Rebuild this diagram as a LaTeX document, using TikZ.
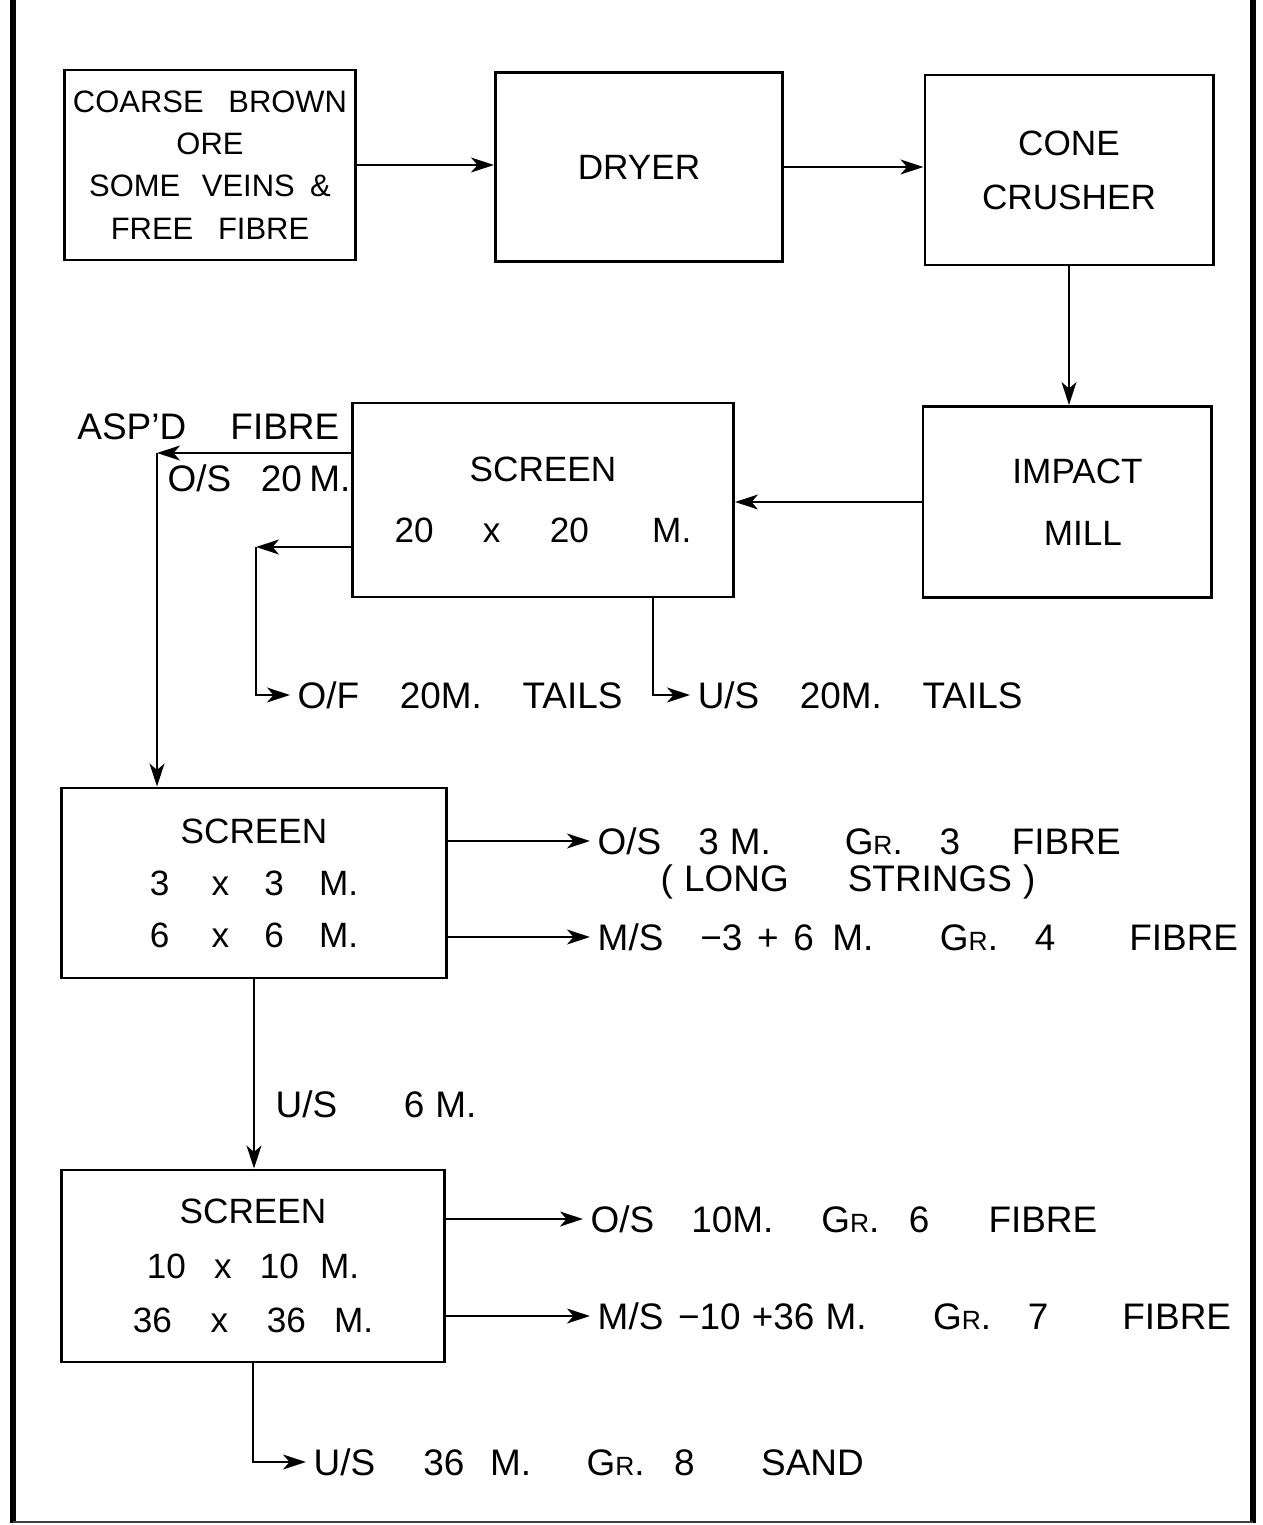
\documentclass[tikz,border=0pt]{standalone}
\usepackage{fontspec}
\setmainfont{Liberation Sans}
\usetikzlibrary{positioning,calc,arrows.meta}
\newcommand{\gap}[1]{\hspace{#1em}}
\newcommand{\grade}{G{\fontsize{7.5}{8}\selectfont R}.}

\begin{document}
\begin{tikzpicture}[x=0.01cm, y=-0.01cm]
\tikzstyle{process} = [rectangle, draw, thick, align=center, inner sep=2pt, font=\fontsize{10}{15.4}\selectfont]
\tikzstyle{sidefont} = [inner sep=2pt, font=\fontsize{10.5}{12}\selectfont]
\tikzstyle{outtext} = [sidefont, anchor=west]
\tikzstyle{arrow} = [thick,->,>={Stealth[length=6.5pt,width=4.2pt,inset=1.8pt]}]
\tikzstyle{frame} = [line width=1.5pt]

\useasboundingbox (0,0) rectangle (1262,1525);
\draw [frame] (13,0) -- (13,1523);
\draw [frame] (1253,0) -- (1253,1523);
\draw [thick, black!75] (13,1522) -- (1253,1522);

% top row
\node (Ore) [process, inner sep=0.5pt, minimum width=2.91cm, minimum height=1.90cm, font=\fontsize{8.8}{12}\selectfont] at (210,165) {COARSE\gap{.8}BROWN\\ORE\\SOME\gap{.7}VEINS\gap{.5}\&\\FREE\gap{.8}FIBRE};
\node (Dryer) [process, minimum width=2.87cm, minimum height=1.89cm] at (639,167) {DRYER};
\node (Crusher) [process, minimum width=2.88cm, minimum height=1.90cm] at (1069,170) {CONE\\CRUSHER};

% second row
\node (Mill) [process, minimum width=2.88cm, minimum height=1.91cm, font=\fontsize{10}{17.5}\selectfont] at (1067,502) {\gap{.6}IMPACT\\\gap{.9}MILL};
\node (Screen20) [process, minimum width=3.81cm, minimum height=1.94cm, font=\fontsize{10}{17.5}\selectfont] at (543,500) {SCREEN\\20\gap{1.4}x\gap{1.4}20\gap{1.8}M.};

% lower screens
\node (Screen3) [process, minimum width=3.84cm, minimum height=1.90cm, font=\fontsize{10}{14.8}\selectfont] at (254,883) {SCREEN\\3\gap{1.2}x\gap{1}3\gap{1}M.\\6\gap{1.2}x\gap{1}6\gap{1}M.};
\node (Screen10) [process, minimum width=3.82cm, minimum height=1.92cm] at (253,1266) {SCREEN\\10\gap{.8}x\gap{.8}10\gap{.6}M.\\36\gap{1.1}x\gap{1.1}36\gap{.8}M.};

% product labels
\node (AspFibre) [sidefont, anchor=east] at (347,427) {ASP’D\gap{1.2}FIBRE};
\node (Over20) [outtext] at (160,478) {O/S\gap{.8}20\gap{.2}M.};
\node (TailsOF) [outtext] at (290,695) {O/F\gap{1.1}20M.\gap{1.1}TAILS};
\node (TailsUS) [outtext] at (690,695) {U/S\gap{1.1}20M.\gap{1.1}TAILS};
\node (Gr3) [outtext] at (590,841) {O/S\gap{1}3\gap{.3}M.\gap{2}\grade\gap{1}3\gap{1.4}FIBRE};
\node (Strings) [sidefont] at (848,882) {(\gap{.3}LONG\gap{1.6}STRINGS\gap{.3})};
\node (Gr4) [outtext] at (590,937) {M/S\gap{1}−3\gap{.4}+\gap{.4}6\gap{.5}M.\gap{1.8}\grade\gap{1}4\gap{2}FIBRE};
\node (UnderSix) [outtext] at (268,1104) {U/S\gap{1.8}6\gap{.3}M.};
\node (Gr6) [outtext] at (583,1219) {O/S\gap{1}10M.\gap{1.3}\grade\gap{.8}6\gap{1.6}FIBRE};
\node (Gr7) [outtext] at (590,1316) {M/S\gap{.4}−10\gap{.3}+36\gap{.3}M.\gap{1.8}\grade\gap{1}7\gap{2}FIBRE};
\node (Gr8) [outtext] at (306,1462) {U/S\gap{1.3}36\gap{.7}M.\gap{1.5}\grade\gap{.8}8\gap{1.8}SAND};

\coordinate (AspTurn) at (157,453);
\coordinate (TailTurn) at (256,547);
\coordinate (UnderDrop) at (653,0);

\draw [arrow] (Ore.east) -- (Ore.east -| Dryer.west);
\draw [arrow] (Dryer.east) -- (Dryer.east -| Crusher.west);
\draw [arrow] (Crusher.south) -- (Crusher.south |- Mill.north);
\draw [arrow] (Mill.west) -- (Mill.west -| Screen20.east);

\draw [arrow] (Screen20.west |- AspTurn) -- (AspTurn);
\draw [arrow] (AspTurn) -- (AspTurn |- Screen3.north);
\draw [arrow] (Screen20.west |- TailTurn) -- (TailTurn);
\draw [arrow] (TailTurn) |- (TailsOF.west);
\draw [arrow] (Screen20.south -| UnderDrop) |- (TailsUS.west);

\draw [arrow] (Screen3.east |- Gr3.west) -- (Gr3.west);
\draw [arrow] (Screen3.east |- Gr4.west) -- (Gr4.west);
\draw [arrow] (Screen3.south) -- (Screen3.south |- Screen10.north);

\draw [arrow] (Screen10.east |- Gr6.west) -- (Gr6.west);
\draw [arrow] (Screen10.east |- Gr7.west) -- (Gr7.west);
\draw [arrow] (Screen10.south) |- (Gr8.west);
\end{tikzpicture}
\end{document}
